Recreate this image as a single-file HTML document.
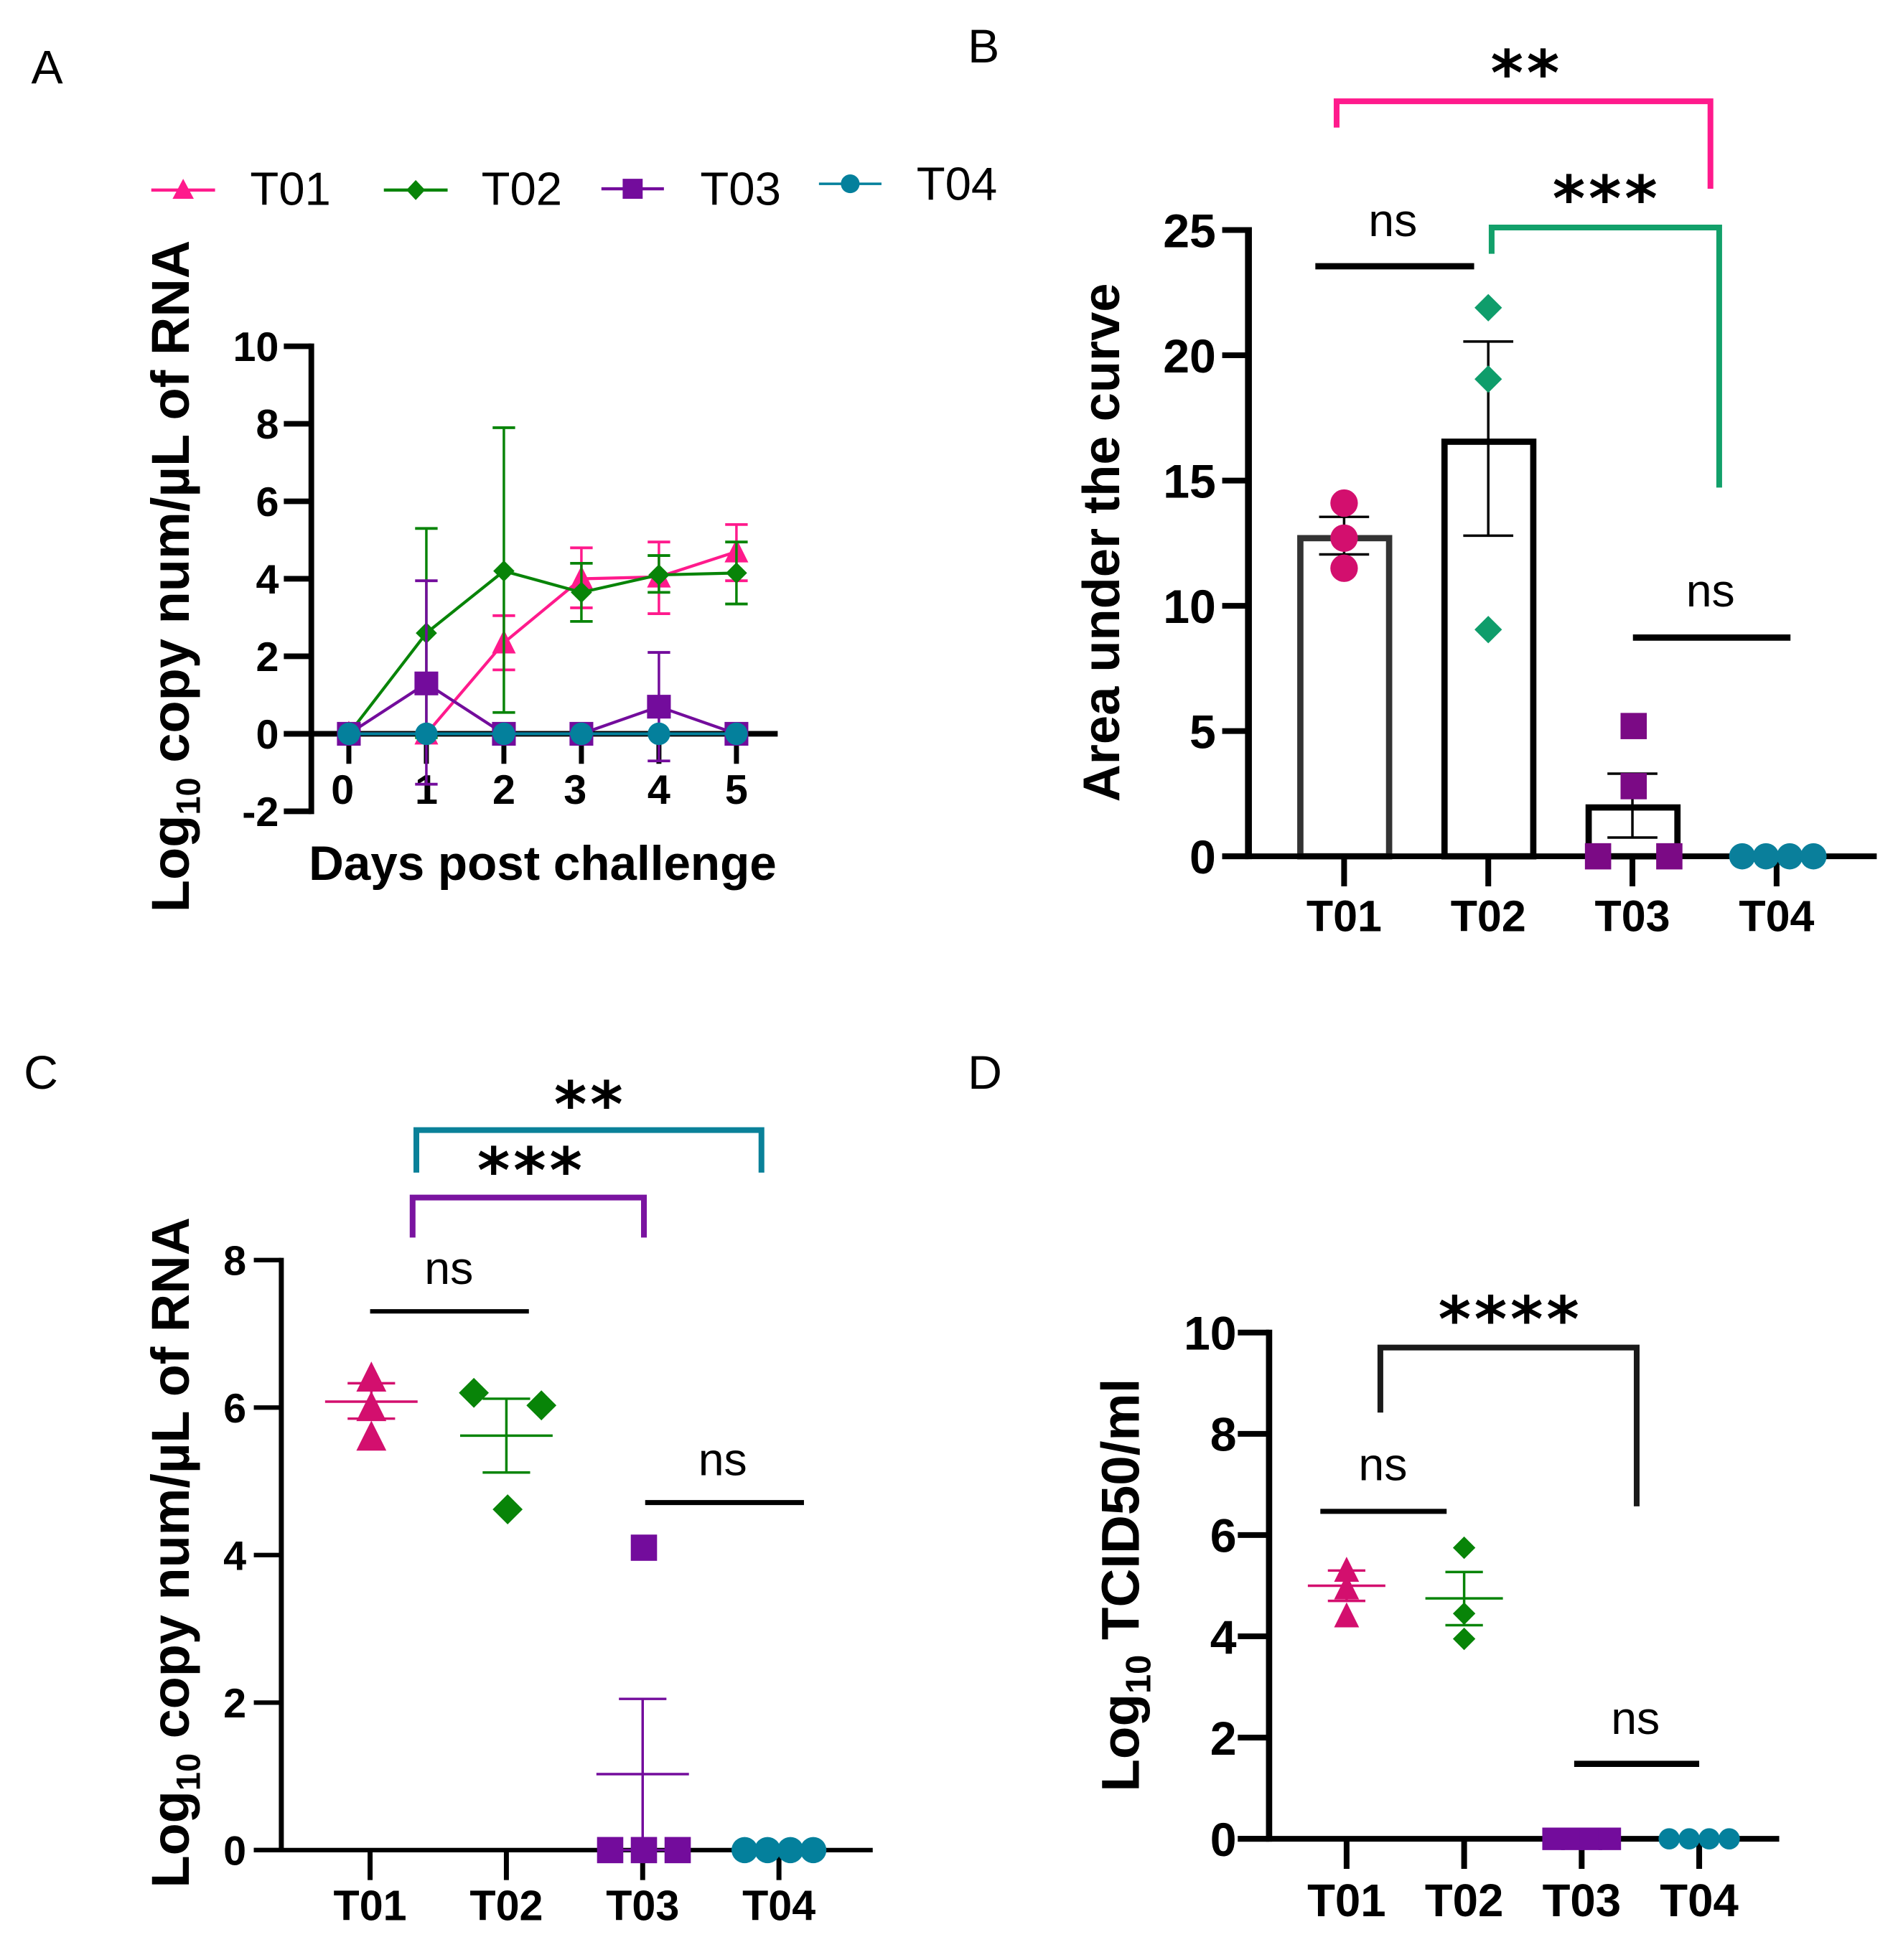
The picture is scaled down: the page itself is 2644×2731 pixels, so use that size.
<!DOCTYPE html>
<html lang="en">
<head>
<meta charset="utf-8">
<title>Panels A-D</title>
<style>
html,body{margin:0;padding:0;background:#fff;}
svg{display:block;}
text{font-family:"Liberation Sans",sans-serif;fill:#000;}
.letter{font-size:38px;}
.legend{font-size:37.500px;}
.ns{font-size:37px;text-anchor:middle;}
.stars{font-family:"DejaVu Sans",sans-serif;font-size:50px;font-weight:bold;text-anchor:middle;letter-spacing:2.700px;}
.title{font-weight:bold;text-anchor:middle;}
.bk{fill:none;stroke-width:4.600;}
</style>
</head>
<body>
<svg id="chart" xmlns="http://www.w3.org/2000/svg" width="2644" height="2731" viewBox="0 0 1518 1567.9">
<rect x="0" y="0" width="1518" height="1568" fill="#fff"/>

<text class="letter" x="25" y="67">A</text>
<text class="letter" x="774" y="50">B</text>
<text class="letter" x="19" y="871">C</text>
<text class="letter" x="774" y="871">D</text>

<g>
  <g>
    <line x1="121" x2="172" y1="152" y2="152" stroke="#ff1a8c" stroke-width="2.5"/>
    <polygon points="146.500,143 155,159 138,159" fill="#ff1a8c"/>
    <text class="legend" x="200" y="164">T01</text>
  </g>
  <g>
    <line x1="307" x2="358" y1="152" y2="152" stroke="#088408" stroke-width="2.5"/>
    <polygon points="332.500,144 340,152 332.500,160 325,152" fill="#088408"/>
    <text class="legend" x="385" y="164">T02</text>
  </g>
  <g>
    <line x1="481" x2="531" y1="151" y2="151" stroke="#730c9c" stroke-width="2.5"/>
    <rect x="498" y="143" width="16" height="16" fill="#730c9c"/>
    <text class="legend" x="560" y="164">T03</text>
  </g>
  <g>
    <line x1="655" x2="705" y1="147" y2="147" stroke="#04809c" stroke-width="2"/>
    <circle cx="680" cy="147" r="7.500" fill="#04809c"/>
    <text class="legend" x="733" y="160">T04</text>
  </g>
</g>

<text class="title" font-size="42.500" transform="translate(151,461) rotate(-90)">Log<tspan font-size="27" dy="9">10</tspan><tspan dy="-9"> copy num/µL of RNA</tspan></text>
<text class="title" font-size="38.700" x="434" y="704">Days post challenge</text>
<text class="title" font-size="41.500" transform="translate(895,434) rotate(-90)">Area under the curve</text>
<text class="title" font-size="42.400" transform="translate(151,1242) rotate(-90)">Log<tspan font-size="27" dy="9">10</tspan><tspan dy="-9"> copy num/µL of RNA</tspan></text>
<text class="title" font-size="42.800" transform="translate(911,1268) rotate(-90)">Log<tspan font-size="28" dy="9">10</tspan><tspan dy="-9">  TCID50/ml</tspan></text>

<g>
  <polyline class="bk" points="1069,102 1069,81 1368,81 1368,151" stroke="#ff1a8c"/>
  <text class="stars" x="1221" y="76">**</text>
  <polyline class="bk" points="1193,203 1193,182 1375,182 1375,390" stroke="#12a06a"/>
  <text class="stars" x="1285" y="176.500">***</text>
  <line x1="1052" x2="1179" y1="213" y2="213" stroke="#000" stroke-width="5"/>
  <text class="ns" x="1114" y="189">ns</text>
  <line x1="1306" x2="1432" y1="510" y2="510" stroke="#000" stroke-width="5"/>
  <text class="ns" x="1368" y="485">ns</text>
</g>
<g>
  <polyline class="bk" points="333,938 333,904 609,904 609,938" stroke="#0a8199"/>
  <text class="stars" x="472" y="901">**</text>
  <polyline class="bk" points="330,990 330,958 515,958 515,990" stroke="#7a14a0"/>
  <text class="stars" x="425" y="954">***</text>
  <line x1="296" x2="423" y1="1049" y2="1049" stroke="#000" stroke-width="3.500"/>
  <text class="ns" x="359" y="1027">ns</text>
  <line x1="516" x2="643" y1="1202" y2="1202" stroke="#000" stroke-width="4"/>
  <text class="ns" x="578" y="1180">ns</text>
</g>
<g>
  <polyline class="bk" points="1104,1130 1104,1078 1309,1078 1309,1205" stroke="#1a1a1a"/>
  <text class="stars" x="1208" y="1073">****</text>
  <line x1="1056" x2="1157" y1="1209" y2="1209" stroke="#000" stroke-width="4"/>
  <text class="ns" x="1106" y="1184">ns</text>
  <line x1="1259" x2="1359" y1="1411" y2="1411" stroke="#000" stroke-width="5"/>
  <text class="ns" x="1308" y="1387">ns</text>
</g>
</svg>

<script>
/* ---------- Panel A data ---------- */
const aDays = [0, 1, 2, 3, 4, 5];
const aYTicks = [-2, 0, 2, 4, 6, 8, 10];
const aT01Mean = [0, 0, 2.35, 4.0, 4.05, 4.7];
const aT01Low  = [0, 0, 1.65, 3.25, 3.1, 3.95];
const aT01High = [0, 0, 3.05, 4.8, 4.95, 5.4];
const aT02Mean = [0, 2.6, 4.2, 3.65, 4.1, 4.15];
const aT02Low  = [0, -0.1, 0.55, 2.9, 3.65, 3.35];
const aT02High = [0, 5.3, 7.9, 4.4, 4.6, 4.95];
const aT03Mean = [0, 1.3, 0, 0, 0.7, 0];
const aT03Low  = [0, -1.3, 0, 0, -0.7, 0];
const aT03High = [0, 3.95, 0, 0, 2.1, 0];
const aT04Mean = [0, 0, 0, 0, 0, 0];

/* ---------- Panel B data ---------- */
const groups = ['T01', 'T02', 'T03', 'T04'];
const bYTicks = [0, 5, 10, 15, 20, 25];
const bBarMeans = [12.7, 16.55, 1.95];
const bErrLow = [12.05, 12.8, 0.75];
const bErrHigh = [13.55, 20.55, 3.3];
const bT01Points = [14.1, 12.7, 11.5];
const bT02Points = [21.9, 19.05, 9.05];
const bT03Points = [5.2, 2.8, 0, 0];
const bT04Points = [0, 0, 0, 0];

/* ---------- Panel C data ---------- */
const cYTicks = [0, 2, 4, 6, 8];
const cMeans = [6.08, 5.62, 1.03];
const cErrLow = [5.85, 5.12, 0];
const cErrHigh = [6.33, 6.12, 2.05];
const cT01Points = [6.4, 6.0, 5.6];
const cT02Points = [6.2, 6.03, 4.62];
const cT03Points = [4.1, 0, 0, 0];
const cT04Points = [0, 0, 0, 0];

/* ---------- Panel D data ---------- */
const dYTicks = [0, 2, 4, 6, 8, 10];
const dMeans = [5.0, 4.75];
const dErrLow = [4.7, 4.22];
const dErrHigh = [5.3, 5.27];
const dT01Points = [5.3, 4.95, 4.4];
const dT02Points = [5.75, 4.45, 3.95];
const dT03Points = [0, 0, 0, 0];
const dT04Points = [0, 0, 0, 0];

const PINK = '#ff1a8c', GREEN = '#088408', PURPLE = '#730c9c', TEAL = '#04809c', MAGENTA = '#d30f6e';
const NS = 'http://www.w3.org/2000/svg';
const svg = document.getElementById('chart');

function add(parent, tag, name, attrs, text) {
  const el = document.createElementNS(NS, tag);
  
  
  for (const k in attrs) el.setAttribute(k, attrs[k]);
  if (text !== undefined) el.textContent = text;
  parent.appendChild(el);
  return el;
}
function ln(parent, name, x1, y1, x2, y2, color, w) {
  return add(parent, 'line', name, {x1, y1, x2, y2, stroke: color, 'stroke-width': w});
}
function marker(parent, name, shape, cx, cy, s, color) {
  const h = s / 2;
  if (shape === 'circle') return add(parent, 'circle', name, {cx, cy, r: h, fill: color});
  if (shape === 'square') return add(parent, 'rect', name, {x: cx - h, y: cy - h, width: s, height: s, fill: color});
  const pts = shape === 'triangle'
    ? [[cx, cy - h * 1.1], [cx + h, cy + h * 0.9], [cx - h, cy + h * 0.9]]
    : [[cx, cy - h], [cx + h, cy], [cx, cy + h], [cx - h, cy]];
  return add(parent, 'polygon', name, {points: pts.map(p => p.join(',')).join(' '), fill: color});
}
function swarm(values, spacing, tol) {
  const out = [], used = values.map(() => false);
  values.forEach((v, i) => {
    if (used[i]) return;
    const idx = [];
    values.forEach((w, j) => { if (!used[j] && Math.abs(w - v) <= tol) { idx.push(j); used[j] = true; } });
    idx.forEach((j, k) => { out[j] = (k - (idx.length - 1) / 2) * spacing; });
  });
  return out;
}
function axes(g, p) {
  const y = p.y, w = p.axisW, tw = p.tickW;
  ln(g, 'y-axis-line', p.axisX, y(p.yTicks[p.yTicks.length - 1]) - tw / 2, p.axisX, y(p.yTicks[0]) + tw / 2, '#000', w);
  ln(g, 'x-axis-line', p.tickLeft, y(0), p.axisEnd, y(0), '#000', tw);
  p.yTicks.forEach(t => {
    const gy = y(t);
    ln(g, 'y-tick-' + t, p.tickLeft, gy, p.axisX, gy, '#000', tw);
    add(g, 'text', 'y-tick-label-' + t, {x: p.tickLeft - p.labelGap, y: gy + p.yFont * 0.36, 'text-anchor': 'end', 'font-size': p.yFont, 'font-weight': 'bold'}, String(t));
  });
}

/* ---------- Panel A ---------- */
(function () {
  const g = add(svg, 'g', 'panel-a', {});
  const y = v => 587 - 31 * v;
  const x = d => 279 + 62 * d;
  axes(g, {y, yTicks: aYTicks, axisX: 249, axisW: 4.5, tickW: 4.5, tickLeft: 227, axisEnd: 622, yFont: 33, labelGap: 4});
  aDays.forEach(d => {
    ln(g, 'x-tick-' + d, x(d), y(0), x(d), y(0) + 24, '#000', 4);
    const nudge = (d === 0 || d === 3) ? -5 : 0;
    add(g, 'text', 'x-tick-label-' + d, {x: x(d) + nudge, y: 643, 'text-anchor': 'middle', 'font-size': 33, 'font-weight': 'bold'}, String(d));
  });
  const series = [
    {n: 't01', mean: aT01Mean, low: aT01Low, high: aT01High, c: PINK, s: 'triangle', size: 19},
    {n: 't02', mean: aT02Mean, low: aT02Low, high: aT02High, c: GREEN, s: 'diamond', size: 17},
    {n: 't03', mean: aT03Mean, low: aT03Low, high: aT03High, c: PURPLE, s: 'square', size: 19},
    {n: 't04', mean: aT04Mean, low: aT04Mean, high: aT04Mean, c: TEAL, s: 'circle', size: 18}
  ];
  series.forEach(sr => {
    const sg = add(g, 'g', 'series-' + sr.n, {});
    sr.mean.forEach((m, i) => {
      if (sr.low[i] === sr.high[i]) return;
      const cx = x(aDays[i]);
      ln(sg, 'error-bar-' + sr.n + '-' + i, cx, y(sr.low[i]), cx, y(sr.high[i]), sr.c, 2);
      ln(sg, 'error-cap-low-' + sr.n + '-' + i, cx - 9, y(sr.low[i]), cx + 9, y(sr.low[i]), sr.c, 2.2);
      ln(sg, 'error-cap-high-' + sr.n + '-' + i, cx - 9, y(sr.high[i]), cx + 9, y(sr.high[i]), sr.c, 2.2);
    });
    add(sg, 'polyline', 'line-' + sr.n, {points: sr.mean.map((m, i) => x(aDays[i]) + ',' + y(m)).join(' '), fill: 'none', stroke: sr.c, 'stroke-width': 2.4});
    sr.mean.forEach((m, i) => marker(sg, 'point-' + sr.n + '-' + i, sr.s, x(aDays[i]), y(m), sr.size, sr.c));
  });
})();

/* ---------- shared dot-plot drawing ---------- */
function drawDots(g, cats, x, y, sets) {
  sets.forEach(st => {
    const off = swarm(st.values, st.spacing, st.tol);
    st.values.forEach((v, i) => marker(g, 'point-' + cats[st.group].toLowerCase() + '-' + i, st.shape, x(st.group) + off[i] + (st.dx || 0), y(v), st.size, st.color));
  });
}
function catAxis(g, x, y, font, base, tickLen, w) {
  groups.forEach((c, i) => {
    ln(g, 'x-tick-' + c.toLowerCase(), x(i), y(0), x(i), y(0) + tickLen, '#000', w);
    add(g, 'text', 'x-tick-label-' + c.toLowerCase(), {x: x(i), y: base, 'text-anchor': 'middle', 'font-size': font, 'font-weight': 'bold'}, c);
  });
}
function meanErr(g, name, cx, meanHalf, capHalf, y, m, lo, hi, color, w) {
  ln(g, 'mean-line-' + name, cx - meanHalf, y(m), cx + meanHalf, y(m), color, w);
  ln(g, 'error-bar-' + name, cx, y(lo), cx, y(hi), color, w);
  ln(g, 'error-cap-low-' + name, cx - capHalf, y(lo), cx + capHalf, y(lo), color, w);
  ln(g, 'error-cap-high-' + name, cx - capHalf, y(hi), cx + capHalf, y(hi), color, w);
}

/* ---------- Panel B ---------- */
(function () {
  const g = add(svg, 'g', 'panel-b', {});
  const y = v => 685 - 20.04 * v;
  const x = i => 1075 + 115.3 * i;
  bBarMeans.forEach((m, i) => {
    add(g, 'rect', 'bar-' + groups[i].toLowerCase(), {x: x(i) - 35, y: y(m), width: 71, height: y(0) - y(m), fill: '#fff', stroke: i === 0 ? '#333' : '#000', 'stroke-width': 5});
  });
  axes(g, {y, yTicks: bYTicks, axisX: 998.5, axisW: 5.5, tickW: 4.6, tickLeft: 977.5, axisEnd: 1501, yFont: 38, labelGap: 5});
  catAxis(g, x, y, 35, 745, 24, 4.6);
  bBarMeans.forEach((m, i) => {
    const cx = x(i), nm = groups[i].toLowerCase();
    ln(g, 'error-bar-' + nm, cx, y(bErrLow[i]), cx, y(bErrHigh[i]), '#000', 2);
    ln(g, 'error-cap-low-' + nm, cx - 20, y(bErrLow[i]), cx + 20, y(bErrLow[i]), '#000', 2);
    ln(g, 'error-cap-high-' + nm, cx - 20, y(bErrHigh[i]), cx + 20, y(bErrHigh[i]), '#000', 2);
  });
  drawDots(g, groups, x, y, [
    {group: 0, values: bT01Points, shape: 'circle', size: 22, color: MAGENTA, spacing: 0, tol: 0.1},
    {group: 1, values: bT02Points, shape: 'diamond', size: 22, color: '#0f9d6b', spacing: 0, tol: 0.1},
    {group: 2, values: bT03Points, shape: 'square', size: 21, color: '#7b0a85', spacing: 57, tol: 0.1, dx: 1},
    {group: 3, values: bT04Points, shape: 'circle', size: 21, color: '#0a7f9b', spacing: 19, tol: 0.1, dx: 1}
  ]);
})();

/* ---------- Panel C ---------- */
(function () {
  const g = add(svg, 'g', 'panel-c', {});
  const y = v => 1480 - 59 * v;
  const x = i => 296 + 109 * i;
  axes(g, {y, yTicks: cYTicks, axisX: 225, axisW: 4, tickW: 3.6, tickLeft: 203, axisEnd: 698, yFont: 33, labelGap: 6});
  catAxis(g, x, y, 34, 1536, 24, 4);
  const colors = [MAGENTA, GREEN, PURPLE];
  cMeans.forEach((m, i) => meanErr(g, groups[i].toLowerCase(), x(i) + (i === 0 ? 1 : 0), 37, 19, y, m, cErrLow[i], cErrHigh[i], colors[i], 2));
  drawDots(g, groups, x, y, [
    {group: 0, values: cT01Points, shape: 'triangle', size: 24, color: MAGENTA, spacing: 0, tol: 0.1, dx: 1},
    {group: 1, values: cT02Points, shape: 'diamond', size: 24, color: GREEN, spacing: 54, tol: 0.3, dx: 1},
    {group: 2, values: cT03Points, shape: 'square', size: 21, color: PURPLE, spacing: 27, tol: 0.1, dx: 1},
    {group: 3, values: cT04Points, shape: 'circle', size: 21, color: TEAL, spacing: 18.3, tol: 0.1}
  ]);
})();

/* ---------- Panel D ---------- */
(function () {
  const g = add(svg, 'g', 'panel-d', {});
  const y = v => 1471 - 40.5 * v;
  const x = i => 1077 + 94 * i;
  axes(g, {y, yTicks: dYTicks, axisX: 1015, axisW: 5, tickW: 4.6, tickLeft: 990, axisEnd: 1423, yFont: 38, labelGap: 1});
  catAxis(g, x, y, 36.5, 1533, 24, 4.6);
  const colors = [MAGENTA, GREEN];
  dMeans.forEach((m, i) => meanErr(g, groups[i].toLowerCase(), x(i), 31, 15, y, m, dErrLow[i], dErrHigh[i], colors[i], 2));
  drawDots(g, groups, x, y, [
    {group: 0, values: dT01Points, shape: 'triangle', size: 20, color: MAGENTA, spacing: 0, tol: 0.1},
    {group: 1, values: dT02Points, shape: 'diamond', size: 18, color: GREEN, spacing: 0, tol: 0.1},
    {group: 2, values: dT03Points, shape: 'square', size: 18, color: PURPLE, spacing: 15, tol: 0.1},
    {group: 3, values: dT04Points, shape: 'circle', size: 17, color: TEAL, spacing: 16, tol: 0.1}
  ]);
})();
</script>
</body>
</html>
